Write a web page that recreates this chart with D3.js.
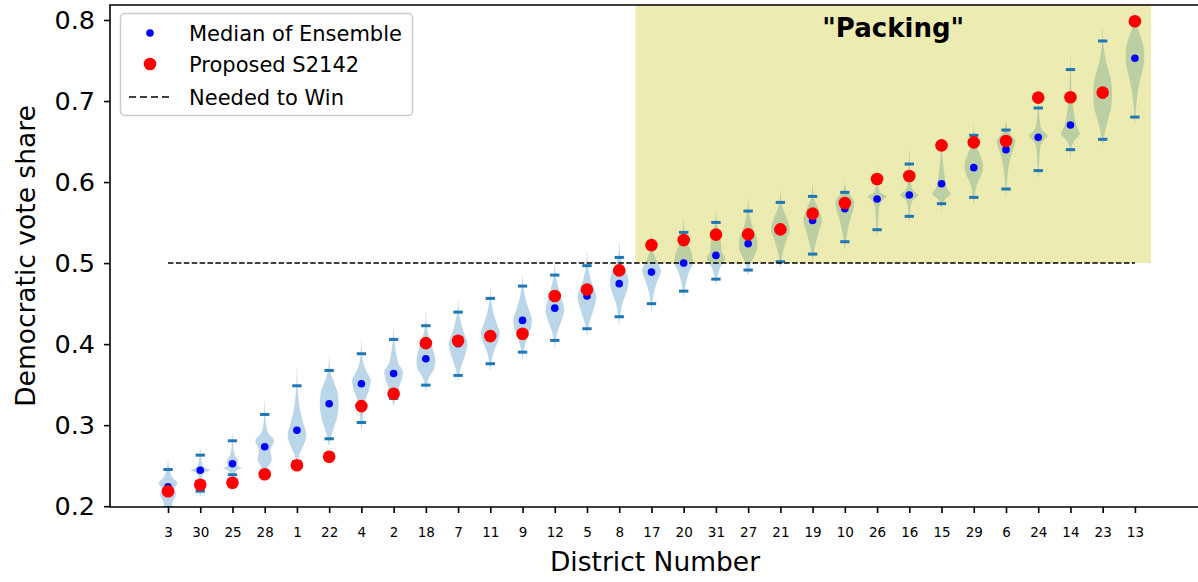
<!DOCTYPE html>
<html>
<head>
<meta charset="utf-8">
<script src="https://cdn.jsdelivr.net/npm/d3@7"></script>
<style>
  html, body { margin: 0; padding: 0; background: #fff; }
  svg { display: block; font-family: "DejaVu Sans", sans-serif; }
</style>
</head>
<body>
<svg id="chart" width="1198" height="582"></svg>
<script>
// ---------------- data ----------------
const districts = [3,30,25,28,1,22,4,2,18,7,11,9,12,5,8,17,20,31,27,21,19,10,26,16,15,29,6,24,14,23,13];
const medians   = [0.224,0.2444,0.2523,0.2733,0.2938,0.3264,0.3511,0.3638,0.382,0.4005,0.411,0.4293,0.4444,0.4593,0.4746,0.4889,0.500,0.5095,0.524,0.541,0.5527,0.5672,0.579,0.584,0.598,0.6178,0.640,0.6552,0.6704,0.710,0.7527];
const proposed  = [0.2185,0.2264,0.2289,0.2395,0.2506,0.261,0.3235,0.3388,0.4012,0.4042,0.4099,0.4128,0.4593,0.4672,0.491,0.5222,0.5284,0.5351,0.5354,0.5416,0.561,0.5741,0.6037,0.6074,0.6453,0.649,0.6506,0.7042,0.7046,0.7104,0.7984];
const ensMin    = [0.198,0.2185,0.2388,0.243,0.255,0.2832,0.3033,0.333,0.3494,0.3614,0.3758,0.3901,0.4046,0.419,0.4338,0.4499,0.4654,0.4802,0.4914,0.5017,0.5111,0.5264,0.5412,0.5577,0.5733,0.5811,0.5914,0.6141,0.640,0.6527,0.6802];
const ensMax    = [0.2453,0.263,0.2807,0.3132,0.3486,0.3675,0.3881,0.4058,0.4227,0.4395,0.4564,0.4716,0.4852,0.4968,0.507,0.518,0.5379,0.5502,0.5642,0.5749,0.5823,0.5873,0.600,0.6222,0.643,0.6577,0.6642,0.6914,0.7388,0.7741,0.797];
// violin outlines: [vote share, relative half-width]
const violinShapes = [
  [[0.190,0.3],[0.205,0.5],[0.215,0.85],[0.222,0.7],[0.228,1.0],[0.236,0.45],[0.245,0.15],[0.256,0.03]],
  [[0.212,0.02],[0.219,0.1],[0.235,0.15],[0.241,0.4],[0.2444,1.0],[0.248,0.4],[0.255,0.15],[0.263,0.08],[0.27,0.02]],
  [[0.236,0.05],[0.240,0.2],[0.245,0.6],[0.247,1.0],[0.250,0.5],[0.256,0.6],[0.262,0.3],[0.272,0.1],[0.281,0.05],[0.29,0.02]],
  [[0.240,0.05],[0.248,0.35],[0.258,0.75],[0.268,0.6],[0.281,1.0],[0.290,0.4],[0.300,0.15],[0.313,0.06],[0.33,0.02]],
  [[0.256,0.05],[0.265,0.3],[0.275,0.7],[0.288,1.0],[0.300,0.75],[0.315,0.4],[0.330,0.2],[0.349,0.06],[0.37,0.02]],
  [[0.275,0.03],[0.283,0.15],[0.295,0.45],[0.310,0.85],[0.325,1.0],[0.340,0.9],[0.352,0.55],[0.362,0.25],[0.368,0.1],[0.385,0.02]],
  [[0.295,0.03],[0.303,0.1],[0.315,0.2],[0.330,0.4],[0.345,0.85],[0.355,1.0],[0.365,0.6],[0.375,0.25],[0.388,0.08],[0.405,0.02]],
  [[0.325,0.05],[0.333,0.2],[0.345,0.5],[0.358,0.9],[0.366,1.0],[0.375,0.55],[0.390,0.25],[0.406,0.08],[0.42,0.02]],
  [[0.342,0.03],[0.350,0.1],[0.360,0.4],[0.370,0.9],[0.380,1.0],[0.390,0.85],[0.400,0.55],[0.410,0.3],[0.423,0.08],[0.44,0.02]],
  [[0.355,0.03],[0.362,0.1],[0.375,0.4],[0.390,0.85],[0.400,1.0],[0.410,0.75],[0.420,0.45],[0.430,0.25],[0.440,0.08],[0.455,0.02]],
  [[0.368,0.03],[0.376,0.1],[0.390,0.35],[0.400,0.7],[0.413,1.0],[0.425,0.7],[0.440,0.3],[0.456,0.08],[0.47,0.02]],
  [[0.380,0.03],[0.390,0.1],[0.400,0.3],[0.410,0.55],[0.420,0.9],[0.430,1.0],[0.440,0.75],[0.450,0.45],[0.460,0.25],[0.472,0.08],[0.485,0.02]],
  [[0.395,0.03],[0.405,0.1],[0.415,0.3],[0.430,0.75],[0.442,1.0],[0.455,0.75],[0.467,0.45],[0.477,0.25],[0.485,0.1],[0.50,0.02]],
  [[0.410,0.03],[0.419,0.1],[0.430,0.35],[0.445,0.75],[0.458,1.0],[0.470,0.7],[0.480,0.4],[0.497,0.1],[0.515,0.02]],
  [[0.425,0.03],[0.434,0.1],[0.450,0.35],[0.465,0.8],[0.478,1.0],[0.490,0.7],[0.500,0.35],[0.507,0.12],[0.525,0.02]],
  [[0.440,0.03],[0.450,0.08],[0.465,0.3],[0.480,0.7],[0.490,1.0],[0.500,0.7],[0.510,0.3],[0.518,0.1],[0.535,0.02]],
  [[0.458,0.03],[0.466,0.1],[0.478,0.3],[0.490,0.6],[0.500,1.0],[0.512,0.85],[0.522,0.5],[0.538,0.1],[0.555,0.02]],
  [[0.473,0.03],[0.480,0.1],[0.490,0.3],[0.500,0.7],[0.506,1.0],[0.515,0.6],[0.525,0.55],[0.537,0.35],[0.550,0.1],[0.565,0.02]],
  [[0.485,0.03],[0.491,0.1],[0.500,0.3],[0.510,0.7],[0.520,1.0],[0.530,0.95],[0.540,0.6],[0.552,0.3],[0.564,0.1],[0.58,0.02]],
  [[0.495,0.03],[0.502,0.1],[0.515,0.3],[0.530,0.7],[0.542,1.0],[0.555,0.7],[0.565,0.35],[0.575,0.1],[0.59,0.02]],
  [[0.503,0.03],[0.511,0.1],[0.525,0.35],[0.540,0.7],[0.552,1.0],[0.562,0.8],[0.572,0.45],[0.582,0.12],[0.598,0.02]],
  [[0.518,0.03],[0.526,0.1],[0.540,0.3],[0.555,0.6],[0.568,0.95],[0.576,1.0],[0.583,0.6],[0.588,0.2],[0.60,0.02]],
  [[0.535,0.02],[0.541,0.08],[0.555,0.12],[0.570,0.25],[0.578,0.6],[0.582,1.0],[0.587,0.35],[0.595,0.12],[0.605,0.05],[0.62,0.02]],
  [[0.550,0.02],[0.558,0.08],[0.570,0.15],[0.578,0.4],[0.584,1.0],[0.590,0.4],[0.600,0.15],[0.612,0.1],[0.622,0.06],[0.64,0.02]],
  [[0.565,0.02],[0.573,0.1],[0.580,0.5],[0.585,1.0],[0.592,0.6],[0.600,0.45],[0.610,0.3],[0.620,0.2],[0.632,0.1],[0.645,0.03]],
  [[0.573,0.03],[0.581,0.1],[0.590,0.2],[0.600,0.45],[0.612,0.9],[0.620,1.0],[0.630,0.8],[0.640,0.45],[0.650,0.25],[0.658,0.1],[0.67,0.02]],
  [[0.583,0.02],[0.591,0.06],[0.605,0.15],[0.620,0.3],[0.635,0.6],[0.645,0.9],[0.651,1.0],[0.657,0.6],[0.664,0.2],[0.675,0.03]],
  [[0.606,0.02],[0.614,0.06],[0.630,0.12],[0.645,0.25],[0.652,0.6],[0.657,1.0],[0.663,0.5],[0.672,0.2],[0.685,0.1],[0.692,0.06],[0.70,0.03]],
  [[0.630,0.02],[0.640,0.08],[0.650,0.35],[0.660,1.0],[0.668,0.7],[0.680,0.45],[0.695,0.25],[0.710,0.12],[0.725,0.08],[0.739,0.04],[0.755,0.02]],
  [[0.645,0.02],[0.653,0.1],[0.665,0.3],[0.680,0.65],[0.695,0.95],[0.710,1.0],[0.725,0.9],[0.740,0.55],[0.755,0.25],[0.774,0.06],[0.79,0.02]],
  [[0.670,0.02],[0.680,0.06],[0.695,0.15],[0.710,0.3],[0.725,0.55],[0.740,0.85],[0.752,1.0],[0.765,0.95],[0.780,0.6],[0.790,0.3],[0.800,0.08]]
];
const yTicks = [0.2,0.3,0.4,0.5,0.6,0.7,0.8];
const winThreshold = 0.5;
const packingFrom = 14.5, packingTo = 30.5;  // span in position units (between districts 8|17 to past 13)
const labels = { y: "Democratic vote share", x: "District Number", packing: "\"Packing\"",
  legend: ["Median of Ensemble", "Proposed S2142", "Needed to Win"] };

// ---------------- layout ----------------
const svg = d3.select("#chart");
const L = 110, T = 5, B = 507;
const x = d3.scaleLinear().domain([-1.8, 32.8]).range([L, L + 34.6 * 32.23]);
const y = d3.scaleLinear().domain([0.199, 0.8185]).range([B, T]);
const R = x.range()[1];

svg.append("defs").append("clipPath").attr("id", "plotclip")
  .append("rect").attr("x", L).attr("y", T).attr("width", R - L).attr("height", B - T);

const plot = svg.append("g").attr("clip-path", "url(#plotclip)");

// violins
const halfW = 0.29; // position units
violinShapes.forEach((shape, i) => {
  const area = d3.area()
    .y(d => y(d[0]))
    .x0(d => x(i - d[1] * halfW))
    .x1(d => x(i + d[1] * halfW))
    .curve(d3.curveMonotoneY);
  plot.append("path").datum(shape).attr("d", area)
    .attr("fill", "#1f77b4").attr("fill-opacity", 0.3);
});

// packing region
plot.append("rect")
  .attr("x", x(packingFrom)).attr("y", y(0.8185))
  .attr("width", x(packingTo) - x(packingFrom))
  .attr("height", y(winThreshold) - y(0.8185))
  .attr("fill", "#bfbf00").attr("fill-opacity", 0.3);

// min / max ticks
const tickHalf = 0.145;
[ensMin, ensMax].forEach(arr => {
  plot.selectAll(null).data(arr).enter().append("line")
    .attr("x1", (d, i) => x(i - tickHalf)).attr("x2", (d, i) => x(i + tickHalf))
    .attr("y1", d => y(d)).attr("y2", d => y(d))
    .attr("stroke", "#1f77b4").attr("stroke-width", 3);
});

// needed to win line
plot.append("line")
  .attr("x1", x(0)).attr("x2", x(districts.length - 1))
  .attr("y1", y(winThreshold)).attr("y2", y(winThreshold))
  .attr("stroke", "#000").attr("stroke-width", 1.5).attr("stroke-dasharray", "5.5,2.4");

// medians
plot.selectAll(null).data(medians).enter().append("circle")
  .attr("cx", (d, i) => x(i)).attr("cy", d => y(d)).attr("r", 3.8).attr("fill", "#0000ff");
// proposed
plot.selectAll(null).data(proposed).enter().append("circle")
  .attr("cx", (d, i) => x(i)).attr("cy", d => y(d)).attr("r", 6.3).attr("fill", "#ff0000");

// Packing text
svg.append("text").attr("x", x((packingFrom + packingTo) / 2)).attr("y", 37)
  .attr("text-anchor", "middle").attr("font-weight", "bold").attr("font-size", 26)
  .attr("fill", "#000").text(labels.packing);

// axes
const xAxis = svg.append("g").attr("transform", `translate(0,${B})`)
  .call(d3.axisBottom(x).tickValues(d3.range(districts.length))
    .tickFormat(i => districts[i]).tickSize(6).tickPadding(14));
xAxis.selectAll("text").attr("font-size", 13.5).attr("fill", "#000").attr("font-family", "DejaVu Sans");
xAxis.select(".domain").remove();
xAxis.selectAll(".tick line").attr("stroke", "#000").attr("stroke-width", 1.6);

const yAxis = svg.append("g").attr("transform", `translate(${L},0)`)
  .call(d3.axisLeft(y).tickValues(yTicks).tickFormat(d3.format(".1f")).tickSize(6).tickPadding(9));
yAxis.selectAll("text").attr("font-size", 25.5).attr("fill", "#000").attr("font-family", "DejaVu Sans");
yAxis.select(".domain").remove();
yAxis.selectAll(".tick line").attr("stroke", "#000").attr("stroke-width", 1.6);

// spines
svg.append("line").attr("x1", L).attr("x2", L).attr("y1", T).attr("y2", B).attr("stroke", "#000").attr("stroke-width", 1.6);
svg.append("line").attr("x1", L - 0.8).attr("x2", R).attr("y1", B).attr("y2", B).attr("stroke", "#000").attr("stroke-width", 1.6);
svg.append("line").attr("x1", L - 0.8).attr("x2", R).attr("y1", T).attr("y2", T).attr("stroke", "#000").attr("stroke-width", 1.6);

// axis labels
svg.append("text").attr("transform", "translate(35,256) rotate(-90)")
  .attr("text-anchor", "middle").attr("font-size", 26.5).attr("fill", "#000").text(labels.y);
svg.append("text").attr("x", 655).attr("y", 571)
  .attr("text-anchor", "middle").attr("font-size", 26.5).attr("fill", "#000").text(labels.x);

// legend
const lg = svg.append("g");
lg.append("rect").attr("x", 120.5).attr("y", 13.5).attr("width", 292).attr("height", 102)
  .attr("rx", 4).attr("fill", "#fff").attr("fill-opacity", 0.8)
  .attr("stroke", "#cccccc").attr("stroke-width", 1.5);
const rows = [33, 64, 97];
lg.append("circle").attr("cx", 150).attr("cy", rows[0]).attr("r", 3.8).attr("fill", "#0000ff");
lg.append("circle").attr("cx", 150).attr("cy", rows[1]).attr("r", 6.3).attr("fill", "#ff0000");
lg.append("line").attr("x1", 129).attr("x2", 171).attr("y1", rows[2]).attr("y2", rows[2])
  .attr("stroke", "#000").attr("stroke-width", 1.5).attr("stroke-dasharray", "7,4");
labels.legend.forEach((t, k) => {
  lg.append("text").attr("x", 189).attr("y", rows[k] + 7.5).attr("font-size", 21)
    .attr("fill", "#000").text(t);
});
</script>
</body>
</html>
